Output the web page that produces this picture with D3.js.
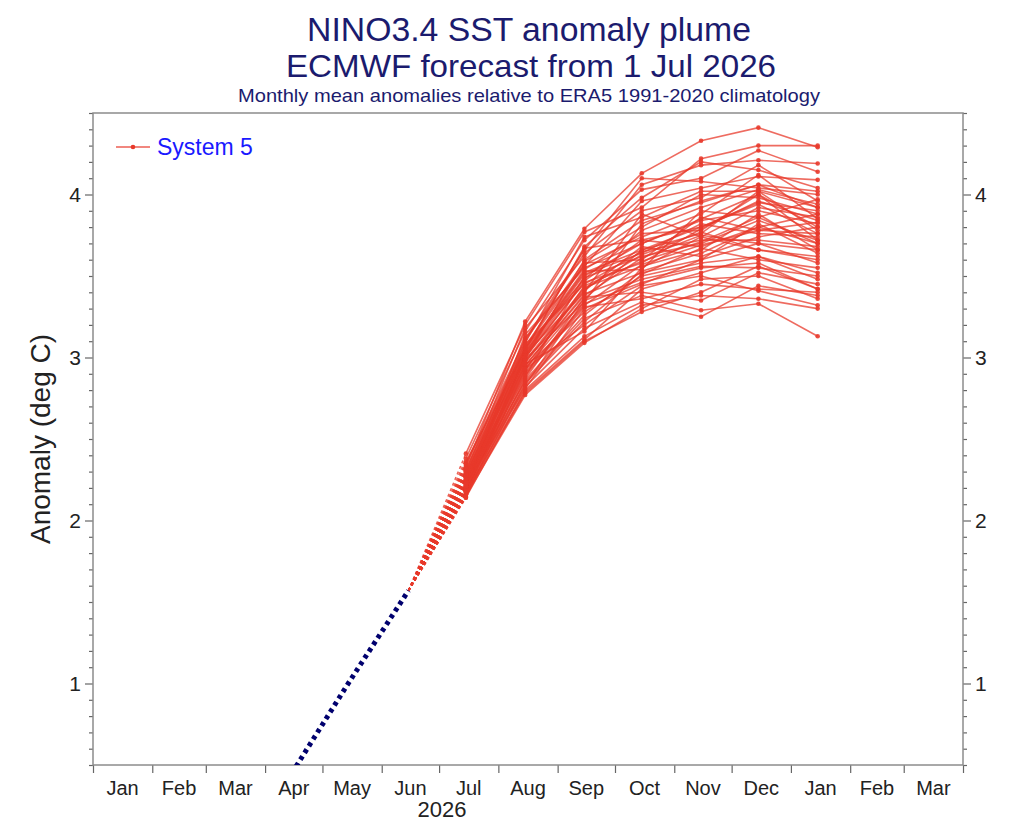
<!DOCTYPE html>
<html>
<head>
<meta charset="utf-8">
<script src="https://cdn.jsdelivr.net/npm/d3@7"></script>
<style>
    body { margin: 0; background: #fff; }
    text { font-family: 'Liberation Sans', Arial, Helvetica, sans-serif; }
</style>
</head>
<body>
<svg id="plume" width="1024" height="827"></svg>
<script>
// Observed anomalies (analysis) before the forecast start
const obsMonths = ['2026-04-15', '2026-05-15', '2026-06-15'];
const obsValues = [0.45, 1.01, 1.57];

// Forecast months, one value per month for each ensemble member
const forecastMonths = ['2026-07-15', '2026-08-15', '2026-09-15', '2026-10-15', '2026-11-15', '2026-12-15', '2027-01-15'];

const members = [
    [2.33, 3.22, 3.79, 4.13, 4.33, 4.41, 4.29],
    [2.41, 3.20, 3.77, 3.92, 4.22, 4.30, 4.30],
    [2.30, 3.18, 3.62, 4.06, 4.18, 4.21, 4.19],
    [2.38, 3.16, 3.72, 4.03, 4.10, 4.27, 4.14],
    [2.36, 3.04, 3.68, 3.98, 4.20, 4.15, 4.04],
    [2.27, 3.12, 3.56, 3.96, 4.04, 4.11, 4.09],
    [2.35, 3.11, 3.66, 4.10, 4.08, 4.04, 4.00],
    [2.22, 3.10, 3.64, 3.90, 3.98, 4.18, 3.96],
    [2.34, 3.09, 3.74, 3.86, 4.02, 4.02, 3.92],
    [2.25, 2.99, 3.60, 3.84, 3.95, 4.06, 4.02],
    [2.31, 3.07, 3.59, 3.80, 4.00, 3.98, 3.88],
    [2.20, 3.06, 3.48, 3.78, 3.92, 4.03, 3.94],
    [2.32, 3.06, 3.57, 3.74, 3.88, 4.12, 3.85],
    [2.29, 3.05, 3.67, 3.72, 3.80, 3.95, 3.90],
    [2.19, 3.14, 3.55, 3.70, 3.84, 3.90, 3.82],
    [2.30, 3.04, 3.54, 3.76, 3.78, 4.00, 3.80],
    [2.24, 3.03, 3.53, 3.54, 3.90, 3.86, 3.97],
    [2.28, 3.03, 3.52, 3.66, 3.76, 4.02, 3.78],
    [2.16, 3.02, 3.51, 3.64, 3.82, 3.76, 3.74],
    [2.26, 3.02, 3.40, 3.88, 3.74, 3.92, 3.86],
    [2.29, 3.01, 3.49, 3.62, 3.70, 3.84, 3.72],
    [2.18, 3.01, 3.58, 3.60, 3.86, 3.78, 3.76],
    [2.27, 3.00, 3.47, 3.72, 3.68, 3.80, 3.70],
    [2.15, 3.00, 3.46, 3.58, 3.79, 3.96, 3.84],
    [2.25, 3.08, 3.45, 3.65, 3.72, 3.72, 3.68],
    [2.21, 2.99, 3.34, 3.82, 3.96, 4.06, 3.92],
    [2.28, 2.98, 3.43, 3.56, 3.66, 3.88, 3.66],
    [2.24, 2.97, 3.42, 3.63, 3.77, 3.66, 3.62],
    [2.17, 2.97, 3.41, 3.68, 3.62, 3.74, 3.80],
    [2.22, 2.88, 3.50, 3.70, 3.85, 4.00, 3.72],
    [2.26, 2.95, 3.39, 3.52, 3.60, 3.82, 3.64],
    [2.19, 2.95, 3.38, 3.61, 3.75, 3.70, 3.58],
    [2.23, 2.94, 3.28, 3.50, 3.58, 3.62, 3.52],
    [2.14, 2.93, 3.36, 3.66, 3.80, 3.94, 3.76],
    [2.21, 2.83, 3.35, 3.48, 3.56, 3.55, 3.50],
    [2.25, 2.92, 3.44, 3.59, 3.71, 3.86, 3.70],
    [2.18, 2.91, 3.33, 3.46, 3.55, 3.58, 3.42],
    [2.24, 2.90, 3.32, 3.57, 3.69, 3.78, 3.83],
    [2.20, 2.89, 3.31, 3.36, 3.45, 3.42, 3.40],
    [2.22, 2.96, 3.16, 3.55, 3.74, 3.66, 3.60],
    [2.16, 2.87, 3.37, 3.40, 3.35, 3.52, 3.45],
    [2.19, 2.86, 3.26, 3.53, 3.64, 3.80, 3.88],
    [2.23, 2.85, 3.24, 3.38, 3.29, 3.33, 3.13],
    [2.15, 2.84, 3.22, 3.51, 3.67, 3.60, 3.55],
    [2.20, 2.93, 3.20, 3.44, 3.50, 3.41, 3.32],
    [2.17, 2.82, 3.18, 3.34, 3.25, 3.44, 3.38],
    [2.21, 2.81, 3.30, 3.45, 3.60, 3.70, 3.66],
    [2.14, 2.80, 3.13, 3.32, 3.38, 3.36, 3.30],
    [2.18, 2.79, 3.11, 3.42, 3.52, 3.62, 3.48],
    [2.16, 2.78, 3.10, 3.28, 3.40, 3.56, 3.42],
    [2.15, 2.77, 3.09, 3.30, 3.48, 3.50, 3.36],
];

const monthLabels = ['Jan', 'Feb', 'Mar', 'Apr', 'May', 'Jun', 'Jul', 'Aug', 'Sep', 'Oct', 'Nov', 'Dec', 'Jan', 'Feb', 'Mar'];
const yearLabels = ['2026'];
const yTicks = [1, 2, 3, 4];

const RED = '#e8392b';
const NAVY = '#1b1b6e';

class PlumeChart {
    constructor(selector) {
        this.svg = d3.select(selector);
        this.parse = d3.timeParse('%Y-%m-%d');
        this.start = this.parse('2026-01-01');
        this.end = this.parse('2027-04-01');

        this.x = d3.scaleTime().domain([this.start, this.end]).range([93, 963]);
        this.y = d3.scaleLinear().domain([0.5, 4.5]).range([765, 113]);

        this.init();
    }

    init() {
        this.__titles();
        this.__axes();
        this.__plume();
        this.__legend();
    }

    __titles() {
        const t = this.svg.append('g').attr('fill', NAVY).attr('text-anchor', 'middle');
        t.append('text').attr('x', 529).attr('y', 41).attr('font-size', 33)
            .attr('textLength', 444).attr('lengthAdjust', 'spacingAndGlyphs')
            .text('NINO3.4 SST anomaly plume');
        t.append('text').attr('x', 531).attr('y', 77).attr('font-size', 32)
            .attr('textLength', 490).attr('lengthAdjust', 'spacingAndGlyphs')
            .text('ECMWF forecast from 1 Jul 2026');
        t.append('text').attr('x', 529).attr('y', 102).attr('font-size', 19)
            .attr('textLength', 582).attr('lengthAdjust', 'spacingAndGlyphs')
            .text('Monthly mean anomalies relative to ERA5 1991-2020 climatology');
    }

    __axes() {
        const x = this.x, y = this.y;
        const monthStarts = d3.timeMonth.range(this.start, d3.timeDay.offset(this.end, 1));
        const minor = d3.range(5, 46).map((d) => d / 10).filter((d) => !yTicks.includes(d));

        const styleAxis = (g) => {
            g.select('.domain').remove();
            g.selectAll('line').attr('stroke', '#666').attr('stroke-width', 1.2);
            g.selectAll('text').attr('fill', '#222').attr('font-size', 21)
                .attr('font-family', "'Liberation Sans', Arial, sans-serif");
        };

        // bottom: ticks at month boundaries, labels in the middle of each month
        this.svg.append('g').attr('transform', 'translate(0,765)')
            .call(d3.axisBottom(x).tickValues(monthStarts).tickSize(8).tickFormat(''))
            .call(styleAxis);

        const labels = this.svg.append('g').attr('text-anchor', 'middle').attr('fill', '#222');
        monthStarts.slice(0, -1).forEach((m, i) => {
            const mid = new Date((m.getTime() + monthStarts[i + 1].getTime()) / 2);
            labels.append('text').attr('x', x(mid)).attr('y', 795).attr('font-size', 20).text(monthLabels[i]);
        });
        yearLabels.forEach((yr) => {
            const a = this.parse(`${yr}-01-01`), b = this.parse(`${+yr + 1}-01-01`);
            labels.append('text').attr('x', x(new Date((a.getTime() + b.getTime()) / 2))).attr('y', 817)
                .attr('font-size', 22).text(yr);
        });

        // left and right axes, major + minor ticks
        [[d3.axisLeft, 93], [d3.axisRight, 963]].forEach(([axis, px]) => {
            this.svg.append('g').attr('transform', `translate(${px},0)`)
                .call(axis(y).tickValues(minor).tickSize(4).tickFormat(''))
                .call(styleAxis);
            this.svg.append('g').attr('transform', `translate(${px},0)`)
                .call(axis(y).tickValues(yTicks).tickSize(8).tickPadding(4).tickFormat(d3.format('d')))
                .call(styleAxis);
        });

        this.svg.append('text')
            .attr('transform', 'translate(50,439) rotate(-90)')
            .attr('text-anchor', 'middle').attr('font-size', 28).attr('fill', '#222')
            .text('Anomaly (deg C)');

        // frame
        this.svg.append('rect').attr('x', 93).attr('y', 113).attr('width', 870).attr('height', 652)
            .attr('fill', 'none').attr('stroke', '#8c8c8c').attr('stroke-width', 1.5);
    }

    __plume() {
        const x = this.x, y = this.y;
        this.svg.append('clipPath').attr('id', 'plot-clip')
            .append('rect').attr('x', 93).attr('y', 113).attr('width', 870).attr('height', 652);
        const g = this.svg.append('g').attr('clip-path', 'url(#plot-clip)');

        const obs = obsMonths.map((d, i) => [this.parse(d), obsValues[i]]);
        const fDates = forecastMonths.map((d) => this.parse(d));
        const line = d3.line().x((d) => x(d[0])).y((d) => y(d[1]));
        const lastObs = obs[obs.length - 1];

        // dotted link from the last observation to each member's first month
        g.selectAll('.link')
            .data(members)
            .join('path')
            .attr('class', 'link')
            .attr('d', (m) => line([lastObs, [fDates[0], m[0]]]))
            .attr('fill', 'none').attr('stroke', RED).attr('stroke-width', 1.5)
            .attr('stroke-dasharray', '3,3').attr('opacity', 0.8);

        g.selectAll('.member')
            .data(members)
            .join('path')
            .attr('class', 'member')
            .attr('d', (m) => line(m.map((v, i) => [fDates[i], v])))
            .attr('fill', 'none').attr('stroke', RED).attr('stroke-width', 1.6).attr('opacity', 0.75);

        g.selectAll('.pt')
            .data(members.flatMap((m) => m.map((v, i) => [fDates[i], v])))
            .join('circle')
            .attr('class', 'pt')
            .attr('cx', (d) => x(d[0])).attr('cy', (d) => y(d[1])).attr('r', 2.3)
            .attr('fill', RED).attr('opacity', 0.9);

        // observations
        g.append('path').attr('d', line(obs))
            .attr('fill', 'none').attr('stroke', '#00006e').attr('stroke-width', 5)
            .attr('stroke-dasharray', '4,4');
    }

    __legend() {
        const lg = this.svg.append('g').attr('transform', 'translate(116,147)');
        lg.append('line').attr('x1', 0).attr('x2', 34).attr('stroke', RED).attr('stroke-width', 1.5).attr('opacity', 0.8);
        lg.append('circle').attr('cx', 17).attr('r', 2.3).attr('fill', RED);
        lg.append('text').attr('x', 41).attr('y', 8).attr('font-size', 23).attr('fill', '#1a1aff').text('System 5');
    }
}

new PlumeChart('#plume');
</script>
</body>
</html>
